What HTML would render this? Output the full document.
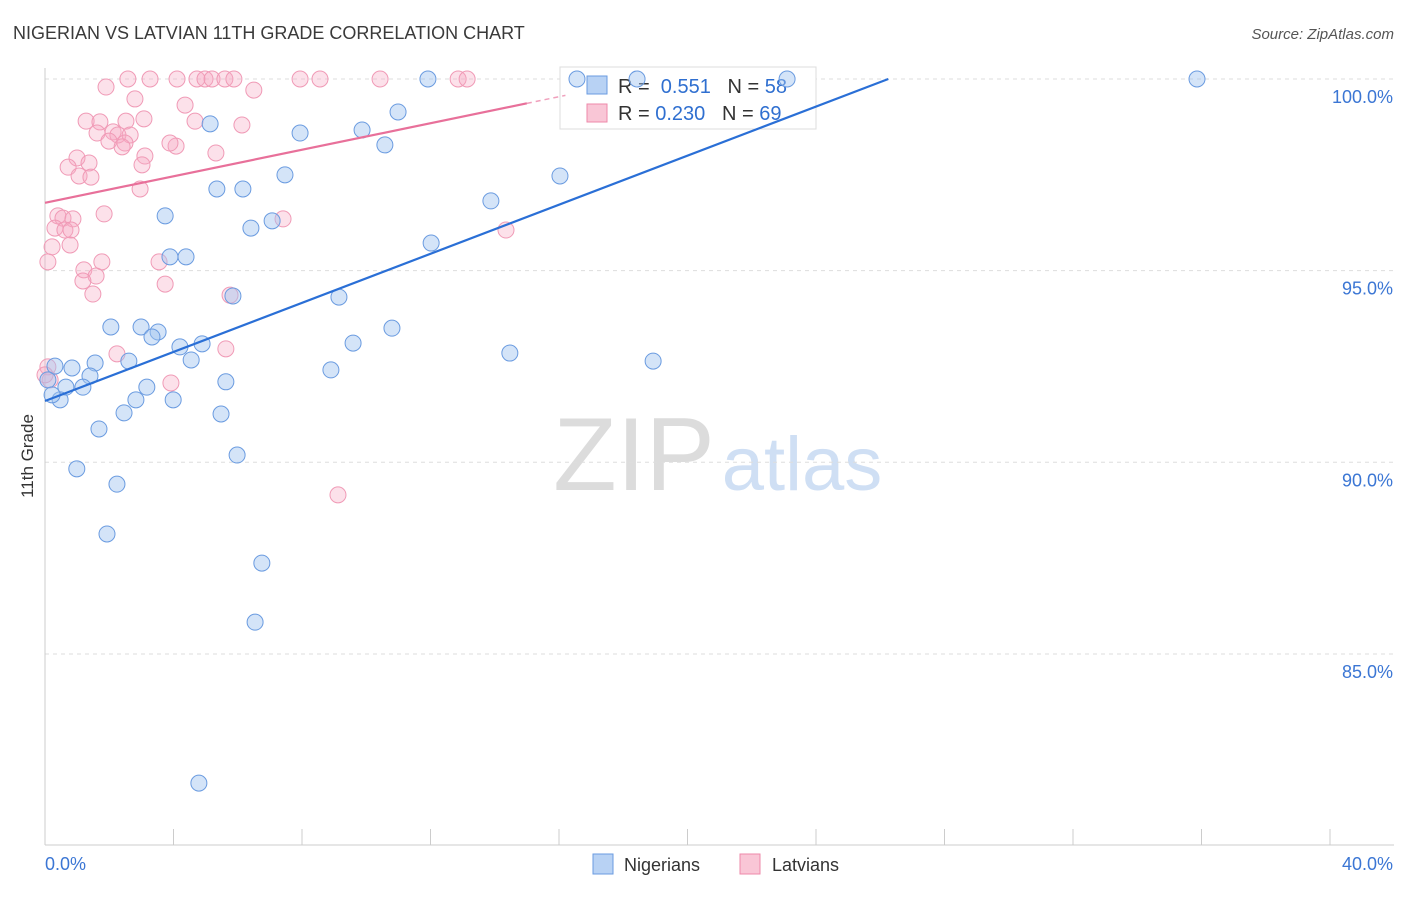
<!DOCTYPE html>
<html><head><meta charset="utf-8">
<style>
body{margin:0;background:#fff;font-family:"Liberation Sans",sans-serif;}
svg text{font-family:"Liberation Sans",sans-serif;}
</style></head>
<body>
<svg id="chart" width="1406" height="892" xmlns="http://www.w3.org/2000/svg">
<text x="13" y="39" font-size="18" fill="#3a3a3a">NIGERIAN VS LATVIAN 11TH GRADE CORRELATION CHART</text>
<text x="1394" y="39" font-size="15" fill="#555" text-anchor="end" font-style="italic">Source: ZipAtlas.com</text>
<text transform="translate(33,456) rotate(-90)" font-size="17" fill="#333" text-anchor="middle">11th Grade</text>
<g>
<text x="634" y="490" font-size="104" fill="#dcdcdc" text-anchor="middle" font-family="Liberation Serif">ZIP</text>
<text x="802" y="490" font-size="76" fill="#cfdff4" text-anchor="middle">atlas</text>
</g>
<g id="grid"></g>
<g id="axes"></g>
<g>
<rect x="560" y="67" width="256" height="62" fill="#fff" stroke="#ddd"/>
<rect x="587" y="76" width="20" height="18" fill="#b8d2f4" stroke="#6a9be0"/>
<text x="618" y="93" font-size="20" fill="#333" xml:space="preserve">R =  <tspan fill="#2f6fd0">0.551</tspan>   N = <tspan fill="#2f6fd0">58</tspan></text>
<rect x="587" y="104" width="20" height="18" fill="#f9c6d6" stroke="#ee88aa"/>
<text x="618" y="120" font-size="20" fill="#333" xml:space="preserve">R = <tspan fill="#2f6fd0">0.230</tspan>   N = <tspan fill="#2f6fd0">69</tspan></text>
</g>
<g id="marks"></g>
<g>
<rect x="593" y="854" width="20" height="20" fill="#b8d2f4" stroke="#6a9be0"/>
<text x="624" y="871" font-size="18" fill="#333">Nigerians</text>
<rect x="740" y="854" width="20" height="20" fill="#f9c6d6" stroke="#ee88aa"/>
<text x="772" y="871" font-size="18" fill="#333">Latvians</text>
</g>
</svg>
<script>
const yTicks=[100,95,90,85];
const yTickLabels=["100.0%","95.0%","90.0%","85.0%"];
const xTicks=[0,4,8,12,16,20,24,28,32,36,40];
const xEndLabels=["0.0%","40.0%"];
const blueX=[16.56,18.43,23.1,11.92,35.86,10.99,5.14,7.94,9.87,10.58,5.35,6.16,7.47,13.88,16.03,3.74,6.41,7.07,12.02,3.89,4.39,5.85,9.15,2.05,2.99,3.52,3.33,4.2,4.89,9.59,10.8,14.47,18.93,1.56,2.61,4.55,0.31,0.84,1.4,8.9,5.63,3.17,1.18,0.65,0.47,2.83,3.99,2.46,5.48,1.68,5.98,0.99,2.24,1.93,6.75,6.54,4.79,0.09,0.22];
const blueY=[100,100,100,100,100,99.14,98.83,98.59,98.67,98.28,97.13,97.13,97.50,96.82,97.47,96.43,96.11,96.30,95.72,95.36,95.36,94.34,94.31,93.53,93.53,93.40,93.27,93.01,93.09,93.11,93.50,92.85,92.64,92.59,92.64,92.67,92.51,92.46,92.25,92.41,92.10,91.96,91.96,91.96,91.63,91.63,91.63,91.29,91.26,90.87,90.19,89.83,89.43,88.13,87.37,85.83,81.63,92.15,91.76];
const pinkX=[2.58,3.27,4.11,4.73,4.98,5.2,5.6,5.88,7.94,8.56,10.43,12.86,13.14,1.9,6.5,2.8,4.36,1.28,1.71,2.52,3.08,4.67,6.13,1.62,2.12,2.27,2.65,1.99,2.49,2.4,4.08,5.32,3.11,0.996,1.37,3.02,0.72,1.06,1.43,2.96,1.84,7.41,0.4,0.56,0.87,0.31,0.62,0.81,14.35,0.22,0.78,0.09,1.77,3.55,1.21,1.59,1.18,3.74,1.49,5.76,2.24,5.63,3.92,9.12,0.09,0.16,3.89,0];
const pinkY=[100,100,100,100,100,100,100,100,100,100,100,100,100,99.79,99.71,99.48,99.32,98.90,98.88,98.90,98.96,98.90,98.80,98.59,98.62,98.54,98.54,98.38,98.33,98.23,98.25,98.07,97.99,97.94,97.81,97.76,97.70,97.47,97.44,97.13,96.48,96.35,96.43,96.37,96.35,96.11,96.06,96.06,96.06,95.62,95.67,95.23,95.23,95.23,95.02,94.86,94.73,94.65,94.39,94.36,92.83,92.96,92.07,89.15,92.49,92.15,98.33,92.28];
const blueTrend=[91.6,0.32];
const pinkTrend=[96.77,0.173];
const X=v=>45+v*32.125, Y=v=>79+(100-v)*38.33;
const NS="http://www.w3.org/2000/svg";
function mk(t,a,p){const e=document.createElementNS(NS,t);for(const k in a)e.setAttribute(k,a[k]);p.appendChild(e);return e;}
const grid=document.getElementById('grid'),axes=document.getElementById('axes'),marks=document.getElementById('marks');
yTicks.forEach((t,i)=>{
 const l=mk('line',{x1:45,x2:1394,y1:Y(t),y2:Y(t),stroke:'#ddd','stroke-dasharray':'4,4'},grid);
 
 
 const tx=mk('text',{x:1393,y:Y(t)+24,'font-size':18,fill:'#3b76d4','text-anchor':'end'},axes);
 tx.textContent=yTickLabels[i];
 
 
});
const ya=mk('line',{x1:45,x2:45,y1:68,y2:845,stroke:'#ccc'},axes);


const xa=mk('line',{x1:45,x2:1394,y1:845,y2:845,stroke:'#ccc'},axes);


xTicks.forEach(t=>{
 const l=mk('line',{x1:X(t),x2:X(t),y1:829,y2:845,stroke:'#ccc'},axes);
 
 
});
[[0,'start'],[40,'end']].forEach((d,i)=>{
 const tx=mk('text',{x:X(d[0])+(i?63:0),y:870,'font-size':18,fill:'#3b76d4','text-anchor':d[1]},axes);
 tx.textContent=xEndLabels[i];
 
 
});
pinkX.forEach((x,i)=>{
 const c=mk('circle',{cx:X(x),cy:Y(pinkY[i]),r:8,fill:'rgba(246,170,196,0.35)',stroke:'#f09ab6','stroke-width':1},marks);
 
 
});
blueX.forEach((x,i)=>{
 const c=mk('circle',{cx:X(x),cy:Y(blueY[i]),r:8,fill:'rgba(160,196,240,0.45)',stroke:'#6a9be0','stroke-width':1},marks);
 
 
});
const bEnd=(100-blueTrend[0])/blueTrend[1];
const bl=mk('line',{x1:X(0),y1:Y(blueTrend[0]),x2:X(bEnd),y2:Y(100),stroke:'#2a6fd6','stroke-width':2.2},marks);


const pl=mk('line',{x1:X(0),y1:Y(pinkTrend[0]),x2:X(15),y2:Y(pinkTrend[0]+15*pinkTrend[1]),stroke:'#e8709a','stroke-width':2.2},marks);


const pd=mk('line',{x1:X(15),y1:Y(pinkTrend[0]+15*pinkTrend[1]),x2:X(16.2),y2:Y(pinkTrend[0]+16.2*pinkTrend[1]),stroke:'#f0a0bc','stroke-width':1.5,'stroke-dasharray':'5,4'},marks);


</script>
</body></html>
